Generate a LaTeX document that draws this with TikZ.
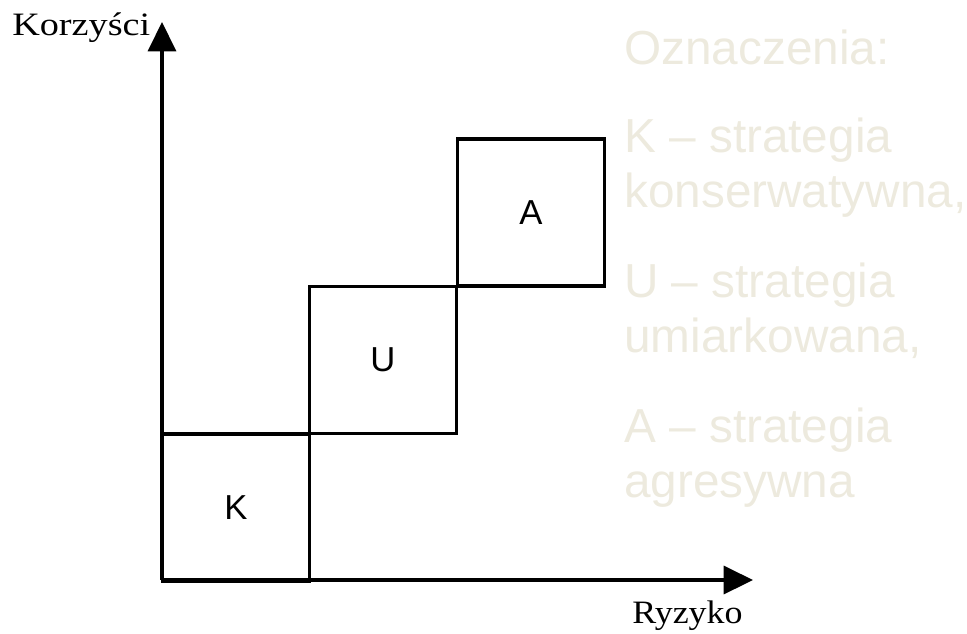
\documentclass[tikz,border=0pt]{standalone}
\usepackage{fontspec}
\setmainfont{Liberation Serif}
\newfontfamily\arialfont{Liberation Sans}
\usetikzlibrary{arrows.meta}
\definecolor{legendcol}{RGB}{237,234,222}
\tikzset{
  box/.style={draw=black, line width=2.6pt, minimum width=110.25pt, minimum height=110.25pt, inner sep=0pt, font=\arialfont\fontsize{26}{26}\selectfont},
  axisline/.style={line width=2.6pt, -{Triangle[length=22pt,width=21pt]}},
  legend/.style={anchor=base west, inner sep=0pt, text=legendcol, font=\arialfont\fontsize{35.8}{36}\selectfont},
  axislabel/.style={anchor=base west, inner sep=0pt, font=\fontsize{24.5}{25}\selectfont}
}
\begin{document}
\begin{tikzpicture}[x=0.75pt,y=-0.75pt]
\useasboundingbox (0,0) rectangle (967,633);
\coordinate (O) at (162,580);
\coordinate (Ytop) at (162,22);
\coordinate (Xend) at (753,580);
\node[box] (K) at (236,507.5) {K};
\node[box] (U) at (383,360) {U};
\node[box] (A) at (531,212.5) {A};
\draw[axisline] (O) -- (Ytop);
\draw[axisline] (O) -- (Xend);
\node[axislabel] (ylab) at (12,35) {\scalebox{1.17}[1]{Korzyści}};
\node[axislabel] (xlab) at (632,623) {\scalebox{1.1}[1]{Ryzyko}};
\node[legend] (l0) at (624,64) {Oznaczenia:};
\node[legend] (l1) at (624,152) {K – strategia};
\node[legend] (l2) at (624,207) {konserwatywna,};
\node[legend] (l3) at (624,297) {U – strategia};
\node[legend] (l4) at (624,352) {umiarkowana,};
\node[legend] (l5) at (624,442) {A – strategia};
\node[legend] (l6) at (624,497) {agresywna};
\end{tikzpicture}
\end{document}
